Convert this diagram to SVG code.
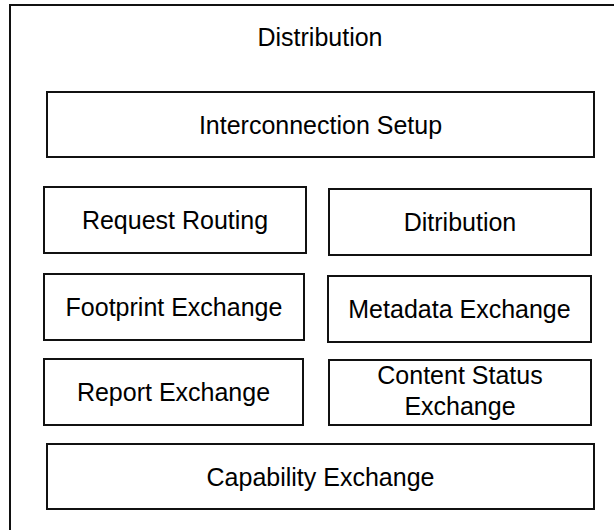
<svg xmlns="http://www.w3.org/2000/svg" width="614" height="530" viewBox="0 0 614 530">
<style>
.box{fill:#fff;stroke:#111;stroke-width:2}
.t{font-family:"Liberation Sans",Arial,sans-serif;font-size:25px;fill:#000;text-anchor:middle}
</style>
<rect width="614" height="530" fill="#fff"/>
<g id="outer">
<rect class="box" x="10" y="5" width="640" height="560"/>
<text class="t" x="320" y="46">Distribution</text>
</g>
<g id="interconnection-setup">
<rect class="box" x="47" y="92" width="547" height="65"/>
<text class="t" x="320.5" y="134">Interconnection Setup</text>
</g>
<g id="request-routing">
<rect class="box" x="44" y="187" width="262" height="66"/>
<text class="t" x="175" y="229">Request Routing</text>
</g>
<g id="ditribution">
<rect class="box" x="329" y="189" width="262" height="66"/>
<text class="t" x="460" y="231">Ditribution</text>
</g>
<g id="footprint-exchange">
<rect class="box" x="44" y="274" width="260" height="66"/>
<text class="t" x="174" y="316">Footprint Exchange</text>
</g>
<g id="metadata-exchange">
<rect class="box" x="328" y="276" width="263" height="66"/>
<text class="t" x="459.5" y="318">Metadata Exchange</text>
</g>
<g id="report-exchange">
<rect class="box" x="44" y="359" width="259" height="66"/>
<text class="t" x="173.5" y="401">Report Exchange</text>
</g>
<g id="content-status-exchange">
<rect class="box" x="329" y="360" width="262" height="65"/>
<text class="t" x="460" y="384">Content Status</text>
<text class="t" x="460" y="415">Exchange</text>
</g>
<g id="capability-exchange">
<rect class="box" x="47" y="444" width="547" height="65"/>
<text class="t" x="320.5" y="486">Capability Exchange</text>
</g>
<g id="connectors"></g>
</svg>
